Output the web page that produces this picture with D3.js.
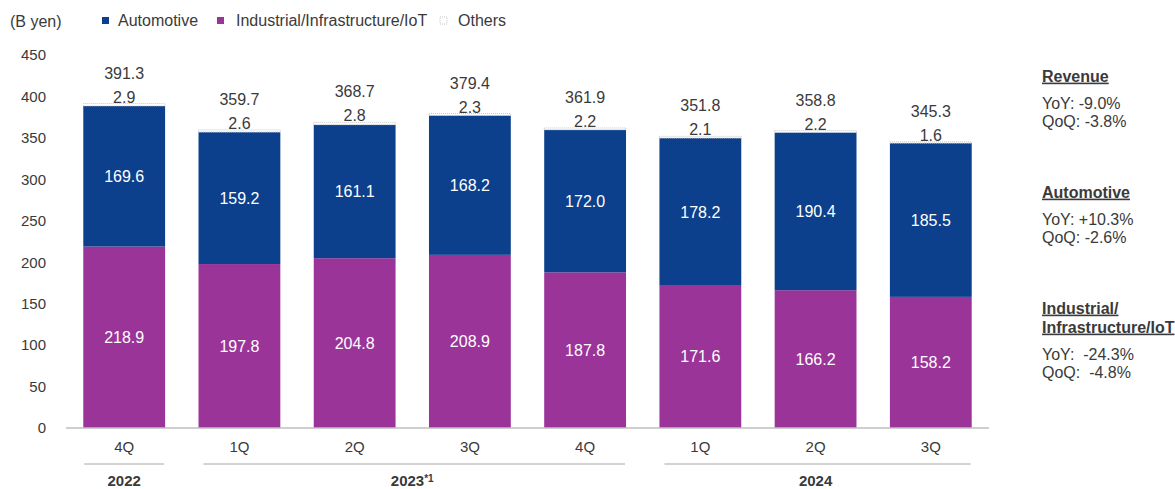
<!DOCTYPE html>
<html>
<head>
<meta charset="utf-8">
<script src="https://cdn.jsdelivr.net/npm/d3@7"></script>
<style>
  html, body { margin: 0; padding: 0; background: #fff; }
  svg { display: block; font-family: "Liberation Sans", Arial, Helvetica, sans-serif; }
</style>
</head>
<body>
<svg id="chart" width="1175" height="489"></svg>
<script>
// Quarterly revenue by segment (billions of yen)
const quarters = ["4Q", "1Q", "2Q", "3Q", "4Q", "1Q", "2Q", "3Q"];
const industrial = [218.9, 197.8, 204.8, 208.9, 187.8, 171.6, 166.2, 158.2];
const automotive = [169.6, 159.2, 161.1, 168.2, 172.0, 178.2, 190.4, 185.5];
const others = [2.9, 2.6, 2.8, 2.3, 2.2, 2.1, 2.2, 1.6];
const totals = [391.3, 359.7, 368.7, 379.4, 361.9, 351.8, 358.8, 345.3];
const yTicks = [0, 50, 100, 150, 200, 250, 300, 350, 400, 450];

// Fiscal-year groups: label, first and last quarter index
const yearGroups = [
  { label: "2022", from: 0, to: 0 },
  { label: "2023*1", from: 1, to: 4 },
  { label: "2024", from: 5, to: 7 }
];

// Side notes on the latest quarter
const notes = [
  { title: ["Revenue"], lines: ["YoY: -9.0%", "QoQ: -3.8%"] },
  { title: ["Automotive"], lines: ["YoY: +10.3%", "QoQ: -2.6%"] },
  { title: ["Industrial/", "Infrastructure/IoT"], lines: ["YoY:  -24.3%", "QoQ:  -4.8%"] }
];

const BLUE = "#0c3f8c";
const PURPLE = "#9a3499";
const TEXT = "#3a3a3a";

const svg = d3.select("#chart");

const idx = d3.range(quarters.length);
const x = d3.scaleBand().domain(idx).range([66, 989]).paddingInner(0.29).paddingOuter(0.15);
const y = d3.scaleLinear().domain([0, 450]).range([428, 55]);

// Y tick labels (no axis line, no tick marks)
const yAxis = d3.axisLeft(y).tickValues(yTicks).tickSize(0).tickPadding(0);
const yg = svg.append("g").attr("transform", "translate(46,0)").call(yAxis);
yg.select(".domain").remove();
yg.selectAll("text").attr("fill", TEXT).style("font-size", "15px")
  .style("font-family", "'Liberation Sans', Arial, sans-serif");

// Stacked segments
const rows = idx.map(i => ({ i, ind: industrial[i], auto: automotive[i], oth: others[i], total: totals[i] }));
const stack = d3.stack().keys(["ind", "auto", "oth"]);
const series = stack(rows);
const fills = { ind: PURPLE, auto: BLUE, oth: "#ffffff" };

series.forEach(s => {
  svg.append("g").selectAll("rect").data(s).join("rect")
    .attr("x", d => x(d.data.i))
    .attr("width", x.bandwidth())
    .attr("y", d => y(d[1]))
    .attr("height", d => y(d[0]) - y(d[1]))
    .attr("fill", fills[s.key])
    .attr("stroke", s.key === "oth" ? "#c8c8c8" : "none")
    .attr("stroke-width", s.key === "oth" ? 1 : 0)
    .attr("stroke-dasharray", s.key === "oth" ? "1,1" : null);
});

// Baseline
svg.append("line")
  .attr("x1", 66).attr("x2", 989)
  .attr("y1", y(0)).attr("y2", y(0))
  .attr("stroke", "#bfbfbf").attr("stroke-width", 1.5);

// Value labels inside segments
[["ind", 0], ["auto", 1]].forEach(([key, k]) => {
  svg.append("g").selectAll("text").data(series[k]).join("text")
    .attr("x", d => x(d.data.i) + x.bandwidth() / 2)
    .attr("y", d => (y(d[0]) + y(d[1])) / 2)
    .attr("dy", "0.35em")
    .attr("text-anchor", "middle")
    .attr("fill", "#ffffff")
    .style("font-size", "16px")
    .text(d => d.data[key].toFixed(1));
});

// Others labels just above bar tops, totals above them
svg.append("g").selectAll("text").data(series[2]).join("text")
  .attr("x", d => x(d.data.i) + x.bandwidth() / 2)
  .attr("y", d => y(d[1]) - 1)
  .attr("text-anchor", "middle")
  .attr("fill", TEXT)
  .style("font-size", "16px")
  .text(d => d.data.oth.toFixed(1));

svg.append("g").selectAll("text").data(rows).join("text")
  .attr("x", d => x(d.i) + x.bandwidth() / 2)
  .attr("y", d => y(d.total) - 25)
  .attr("text-anchor", "middle")
  .attr("fill", TEXT)
  .style("font-size", "16px")
  .text(d => d.total.toFixed(1));

// Quarter labels
svg.append("g").selectAll("text").data(idx).join("text")
  .attr("x", i => x(i) + x.bandwidth() / 2)
  .attr("y", 447)
  .attr("dy", "0.35em")
  .attr("text-anchor", "middle")
  .attr("fill", TEXT)
  .style("font-size", "15px")
  .text(i => quarters[i]);

// Year group rules and labels
const yg2 = svg.append("g").selectAll("g").data(yearGroups).join("g");
yg2.append("line")
  .attr("x1", g => x(g.from) + (g.from > 0 && g.to > g.from ? 5 : 1))
  .attr("x2", g => x(g.to) + x.bandwidth() - 1)
  .attr("y1", 464).attr("y2", 464)
  .attr("stroke", "#a6a6a6").attr("stroke-width", 1);
yg2.append("text")
  .attr("x", g => (x(g.from) + x(g.to) + x.bandwidth()) / 2)
  .attr("y", 481)
  .attr("dy", "0.35em")
  .attr("text-anchor", "middle")
  .attr("fill", TEXT)
  .style("font-size", "15px")
  .style("font-weight", "bold")
  .each(function (g) {
    const t = d3.select(this);
    const m = g.label.match(/^(.*?)(\*\d+)?$/);
    t.append("tspan").text(m[1]);
    if (m[2]) t.append("tspan").attr("dy", "-0.45em").style("font-size", "10px").text(m[2]);
  });

// Unit and legend
svg.append("text").attr("x", 10).attr("y", 21).attr("dy", "0.35em")
  .attr("fill", TEXT).style("font-size", "16px").text("(B yen)");

const legend = [
  { label: "Automotive", color: BLUE, sx: 102, tx: 118 },
  { label: "Industrial/Infrastructure/IoT", color: PURPLE, sx: 217, tx: 236 },
  { label: "Others", color: "#ffffff", sx: 440, tx: 458 }
];
const lg = svg.append("g").selectAll("g").data(legend).join("g");
lg.append("rect")
  .attr("x", d => d.sx).attr("y", 17).attr("width", 7).attr("height", 7)
  .attr("fill", d => d.color)
  .attr("stroke", d => d.color === "#ffffff" ? "#c8c8c8" : "none")
  .attr("stroke-dasharray", d => d.color === "#ffffff" ? "1,1" : null);
lg.append("text")
  .attr("x", d => d.tx).attr("y", 20).attr("dy", "0.35em")
  .attr("fill", TEXT).style("font-size", "16px")
  .text(d => d.label);

// Side notes
const noteTops = [76, 192, 308];
notes.forEach((n, k) => {
  const g = svg.append("g").attr("transform", `translate(1042,${noteTops[k]})`);
  n.title.forEach((t, j) => {
    g.append("text").attr("x", 0).attr("y", j * 19).attr("dy", "0.35em")
      .attr("fill", TEXT).style("font-size", "16px").style("font-weight", "bold")
      .style("text-decoration", "underline")
      .text(t);
  });
  const base = (n.title.length - 1) * 19 + 27;
  n.lines.forEach((t, j) => {
    g.append("text").attr("x", 0).attr("y", base + j * 18.5).attr("dy", "0.35em")
      .attr("fill", TEXT).style("font-size", "16px")
      .attr("xml:space", "preserve").style("white-space", "pre")
      .text(t);
  });
});
</script>
</body>
</html>
